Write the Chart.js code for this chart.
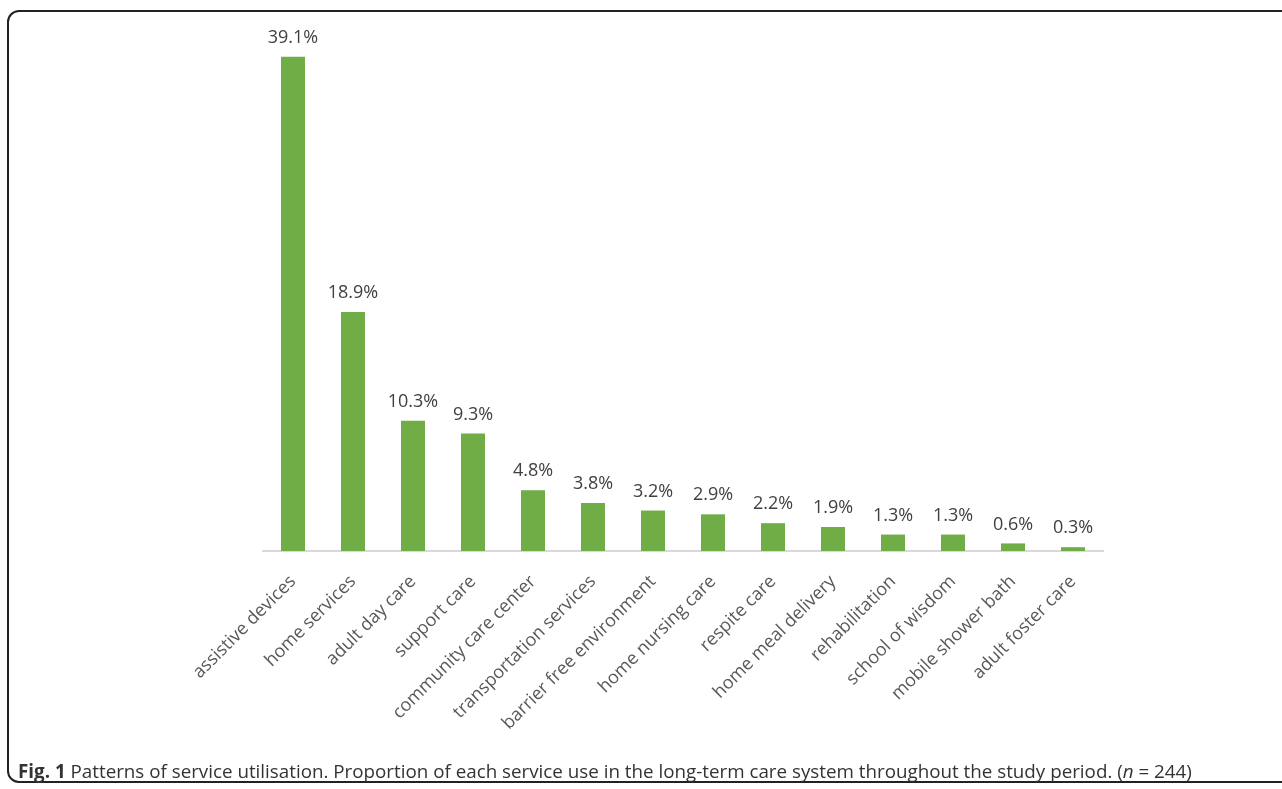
<!DOCTYPE html>
<html>
<head>
<meta charset="utf-8">
<script src="https://cdn.jsdelivr.net/npm/chart.js@4"></script>
<style>
  html, body { margin: 0; padding: 0; background: #fff; overflow: hidden; }
  body { width: 1282px; height: 789px; position: relative; }
  #frame {
    position: absolute; left: 7px; top: 10px; width: 1300px; height: 773px;
    border: 2px solid #222; border-radius: 12px; box-sizing: border-box;
  }
  #wrap { position: absolute; left: 0; top: 0; width: 1282px; height: 789px; }
  #caption {
    position: absolute; left: 18px; top: 760px;
    font-family: "Open Sans", sans-serif; font-size: 18.8px; color: #333;
    white-space: nowrap; line-height: 22px;
  }
</style>
</head>
<body>
<div id="frame"></div>
<div id="wrap"><canvas id="myChart"></canvas></div>
<div id="caption"><b>Fig. 1</b> Patterns of service utilisation. Proportion of each service use in the long-term care system throughout the study period. (<i>n</i> = 244)</div>
<script>
var services = [
  "assistive devices", "home services", "adult day care", "support care",
  "community care center", "transportation services", "barrier free environment",
  "home nursing care", "respite care", "home meal delivery", "rehabilitation",
  "school of wisdom", "mobile shower bath", "adult foster care"
];
var percentUsed = [39.1, 18.9, 10.3, 9.3, 4.8, 3.8, 3.2, 2.9, 2.2, 1.9, 1.3, 1.3, 0.6, 0.3];

// draws the value above each bar
var valueLabels = {
  id: "valueLabels",
  afterDatasetsDraw(chart) {
    var ctx = chart.ctx;
    var meta = chart.getDatasetMeta(0);
    ctx.save();
    ctx.font = "18px 'Open Sans', sans-serif";
    ctx.fillStyle = "#404040";
    ctx.textAlign = "center";
    ctx.textBaseline = "bottom";
    meta.data.forEach((bar, i) => {
      ctx.fillText(percentUsed[i].toFixed(1) + "%", bar.x, bar.y - 10);
    });
    ctx.restore();
  }
};

const ctx_chart = document.getElementById("myChart");

var myChart = new Chart(ctx_chart, {
  type: "bar",
  data: {
    labels: services,
    datasets: [
      {
        data: percentUsed,
        backgroundColor: "#70AD47",
        categoryPercentage: 1,
        barPercentage: 0.4,
      },
    ],
  },
  options: {
    responsive: true,
    maintainAspectRatio: false,
    animation: false,
    layout: { padding: { left: 263, right: 179, top: 20, bottom: 38 } },
    plugins: { legend: { display: false }, tooltip: { enabled: false } },
    scales: {
      x: {
        grid: { display: false },
        border: { display: true, color: "#d9d9d9", width: 2 },
        ticks: {
          color: "#595959",
          font: { family: "'Open Sans', sans-serif", size: 18 },
          minRotation: 45,
          maxRotation: 45,
          padding: 12,
        },
        afterFit: (s) => { s.height = 200; },
      },
      y: {
        display: false,
        min: 0,
        max: 42,
      },
    },
  },
  plugins: [valueLabels],
});
</script>
</body>
</html>
